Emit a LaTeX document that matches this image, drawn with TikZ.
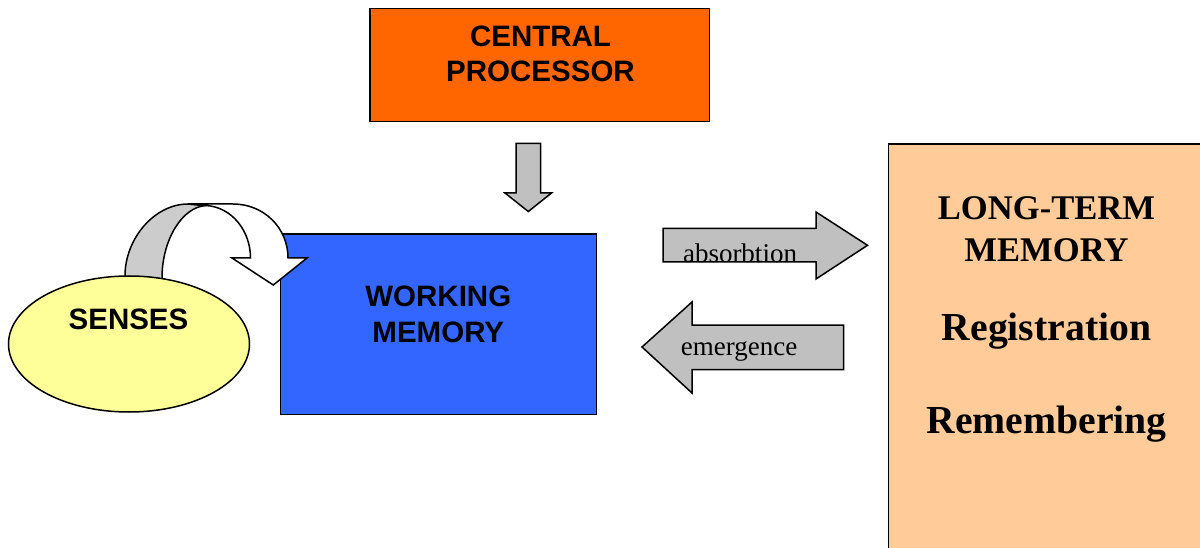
\documentclass[tikz,border=0pt]{standalone}
\usepackage{fontspec}
\setmainfont{Liberation Serif}
\newfontfamily\headfont{Liberation Sans}
\usetikzlibrary{shapes.geometric}
\definecolor{cpOrange}{HTML}{FF6600}
\definecolor{wmBlue}{HTML}{3366FF}
\definecolor{sensYellow}{HTML}{FFFF99}
\definecolor{ltmPeach}{HTML}{FFCC99}
\definecolor{arrowGray}{HTML}{C0C0C0}
\definecolor{bandGray}{HTML}{CCCCCC}
\tikzset{
  outline/.style={draw=black, line width=1.5pt},
  boxnode/.style={outline, rectangle, inner sep=0pt},
  blockarrow/.style={fill=arrowGray},
  sanslabel/.style={inner sep=0pt, anchor=base, font=\headfont\bfseries\fontsize{29.5}{34}\selectfont},
  serifhead/.style={inner sep=0pt, anchor=base, font=\bfseries\fontsize{34.6}{40}\selectfont},
  serifbig/.style={inner sep=0pt, anchor=base, font=\bfseries\fontsize{39.7}{46}\selectfont},
  arrowlabel/.style={inner sep=0pt, anchor=base, font=\fontsize{27}{32}\selectfont},
}
\begin{document}
\begin{tikzpicture}[x=1pt, y=-1pt]
  \useasboundingbox (0,0) rectangle (1200,548);
  \clip (0,0) rectangle (1200,548);

  % boxes
  \node[boxnode, fill=cpOrange, minimum width=339.5pt, minimum height=113pt] (cp) at (539.75,65) {};
  \node[boxnode, fill=wmBlue, minimum width=316pt, minimum height=180.5pt] (wm) at (438.5,324.25) {};
  \node[boxnode, fill=ltmPeach, minimum width=317.5pt, minimum height=416pt] (ltm) at (1047.25,352) {};

  % box texts
  \node[sanslabel] (cp1) at (540.5,46.7) {CENTRAL};
  \node[sanslabel] (cp2) at (540.5,81.7) {PROCESSOR};
  \node[sanslabel] (wm1) at (438.3,306.7) {WORKING};
  \node[sanslabel] (wm2) at (438.3,342.3) {MEMORY};

  \node[serifhead] (ltm1) at (1046.5,220) {LONG-TERM};
  \node[serifhead] (ltm2) at (1046.5,261.7) {MEMORY};
  \node[serifbig] (ltm3) at (1046.5,340) {Registration};
  \node[serifbig] (ltm4) at (1046.5,433) {Remembering};

  % downward block arrow from the central processor
  \draw[outline, blockarrow] (516,143.5) -- (540.5,143.5) -- (540.5,193) -- (551.5,193)
    -- (528.3,211.5) -- (505,193) -- (516,193) -- cycle;

  % absorbtion arrow (text sits low, under the outline)
  \fill[blockarrow] (663,228.5) -- (816,228.5) -- (816,212) -- (867.5,245.3)
    -- (816,279) -- (816,262) -- (663,262) -- cycle;
  \node[arrowlabel] (abs) at (740,262.5) {absorbtion};
  \draw[outline] (663,228.5) -- (816,228.5) -- (816,212) -- (867.5,245.3)
    -- (816,279) -- (816,262) -- (663,262) -- cycle;

  % emergence arrow
  \draw[outline, blockarrow] (843.5,325) -- (692,325) -- (692,302) -- (642,347)
    -- (692,393) -- (692,369.5) -- (843.5,369.5) -- cycle;
  \node[arrowlabel] (emg) at (739,355) {emergence};

  % back side of the curved arrow
  \draw[outline, fill=bandGray, line join=round]
    (125,285) -- (125,276) .. controls (125,238) and (155,204) .. (188,204)
    -- (206,205.5) .. controls (182,207) and (162,240) .. (162,278) -- (162,285);

  % senses
  \node[boxnode, ellipse, fill=sensYellow, minimum width=241pt, minimum height=136pt] (sen) at (129,344) {};
  \node[sanslabel] (sen1) at (128.5,330) {SENSES};

  % front side of the curved arrow, ending on working memory
  \draw[outline, fill=white, line join=miter]
    (188,204) -- (233,204) .. controls (264,204) and (288,228) .. (288,258)
    -- (307,258) -- (273.3,285) -- (232,258) -- (250.5,258)
    .. controls (250.5,231) and (232,207) .. (206,205.5) -- cycle;
\end{tikzpicture}
\end{document}
